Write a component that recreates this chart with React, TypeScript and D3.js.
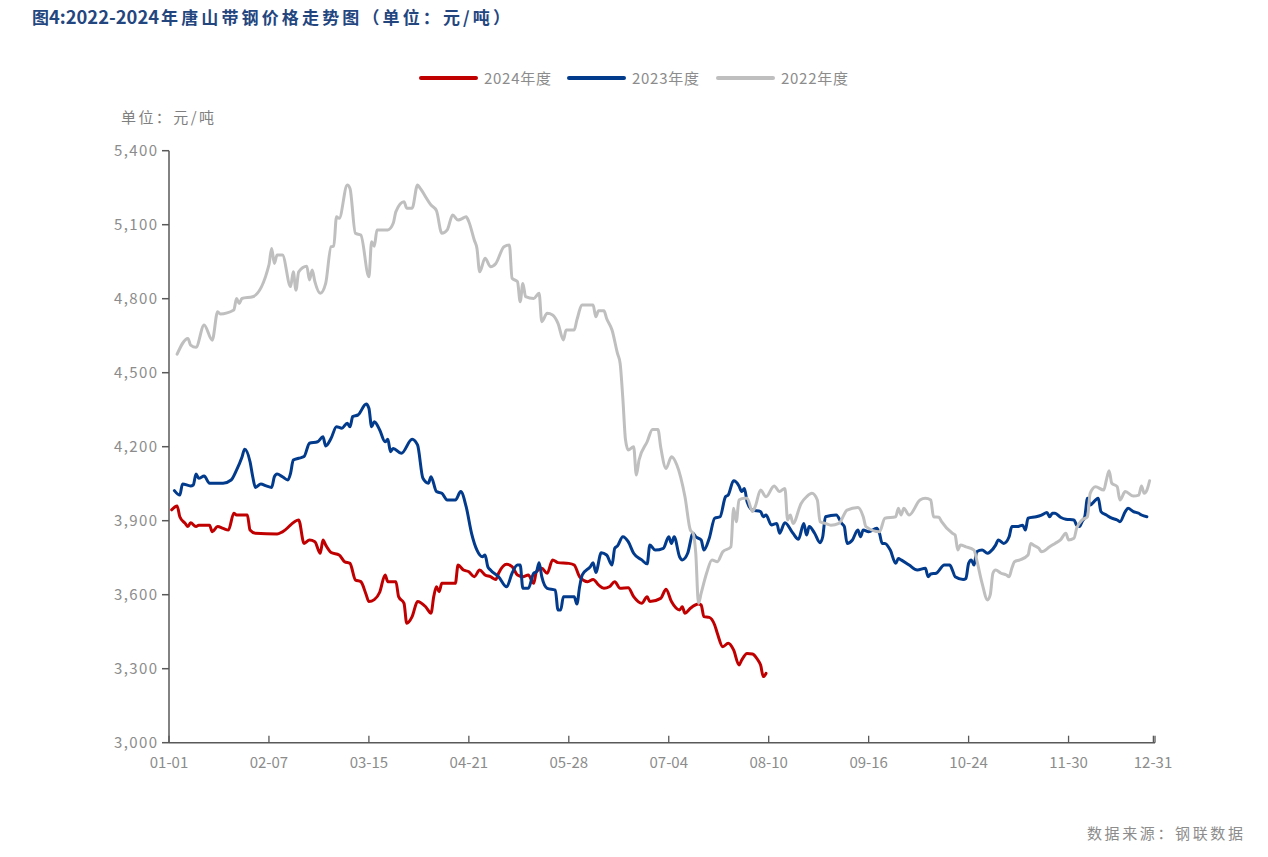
import { useEffect, useRef } from 'react';
import * as d3 from 'd3';

// x axis: day of year (0 = 01-01), ticks every 37 days
const tickDays = [0, 37, 74, 111, 148, 185, 222, 259, 296, 333, 365];
const tickLabels = ['01-01', '02-07', '03-15', '04-21', '05-28', '07-04', '08-10', '09-16', '10-24', '11-30', '12-31'];
const yTicks = [3000, 3300, 3600, 3900, 4200, 4500, 4800, 5100, 5400];

const days2024 = [1, 3, 4, 6, 7, 8, 10, 11, 15, 16, 18, 20, 22, 24, 25, 29, 30, 32, 40, 42, 48, 50, 52, 54, 56, 57, 58, 60, 63, 65, 67, 69, 71, 73, 74, 76, 78, 80, 81, 84, 85, 87, 88, 90, 92, 95, 97, 98, 99, 100, 101, 106, 107, 109, 111, 113, 115, 117, 119, 121, 122, 125, 127, 129, 131, 133, 135, 136, 138, 140, 142, 144, 148, 150, 152, 155, 157, 159, 161, 163, 165, 167, 170, 172, 175, 177, 178, 182, 184, 186, 189, 190, 191, 193, 196, 197, 198, 200, 202, 203, 205, 207, 209, 211, 212, 214, 216, 218, 219, 220, 221];
const price2024 = [3944, 3960, 3916, 3889, 3876, 3892, 3876, 3882, 3882, 3855, 3876, 3869, 3862, 3930, 3923, 3923, 3862, 3849, 3846, 3855, 3903, 3808, 3822, 3815, 3768, 3822, 3801, 3771, 3761, 3734, 3727, 3660, 3653, 3600, 3572, 3580, 3610, 3680, 3653, 3653, 3592, 3565, 3484, 3511, 3572, 3551, 3525, 3592, 3632, 3612, 3646, 3646, 3720, 3700, 3693, 3673, 3700, 3680, 3673, 3662, 3687, 3723, 3714, 3680, 3673, 3680, 3646, 3693, 3707, 3687, 3741, 3730, 3727, 3720, 3673, 3653, 3662, 3640, 3626, 3632, 3653, 3626, 3628, 3592, 3565, 3592, 3572, 3585, 3622, 3572, 3538, 3551, 3525, 3545, 3562, 3558, 3511, 3508, 3477, 3443, 3389, 3403, 3376, 3315, 3335, 3362, 3360, 3335, 3315, 3268, 3281];

const days2023 = [2, 4, 5, 8, 9, 10, 11, 13, 15, 20, 23, 25, 27, 28, 30, 31, 32, 34, 36, 38, 39, 40, 42, 44, 45, 46, 48, 50, 52, 55, 57, 58, 60, 62, 64, 66, 67, 68, 70, 73, 74, 75, 76, 78, 80, 81, 82, 83, 86, 90, 92, 94, 96, 97, 99, 101, 103, 106, 108, 110, 112, 114, 116, 117, 118, 119, 122, 125, 127, 129, 130, 131, 133, 135, 136, 137, 138, 140, 143, 144, 145, 146, 150, 151, 152, 153, 156, 157, 158, 160, 162, 164, 165, 166, 168, 170, 172, 175, 177, 178, 180, 183, 185, 186, 187, 189, 190, 192, 194, 195, 197, 198, 200, 202, 204, 206, 207, 209, 211, 212, 213, 214, 216, 219, 220, 221, 223, 225, 226, 228, 231, 233, 235, 236, 237, 239, 241, 242, 243, 247, 249, 250, 251, 253, 255, 256, 257, 259, 262, 263, 264, 265, 267, 269, 270, 271, 274, 277, 280, 281, 282, 284, 287, 289, 290, 291, 294, 295, 296, 297, 298, 299, 301, 303, 304, 306, 307, 309, 311, 312, 314, 316, 317, 318, 321, 323, 325, 326, 327, 328, 330, 332, 335, 336, 337, 338, 339, 340, 341, 343, 344, 345, 347, 349, 351, 352, 354, 355, 357, 359, 360, 362];
const price2023 = [4022, 4004, 4049, 4041, 4045, 4089, 4072, 4081, 4052, 4052, 4065, 4105, 4157, 4190, 4139, 4078, 4035, 4049, 4041, 4035, 4078, 4089, 4078, 4065, 4092, 4146, 4153, 4160, 4214, 4220, 4240, 4203, 4234, 4281, 4275, 4295, 4281, 4322, 4329, 4373, 4356, 4281, 4301, 4268, 4220, 4230, 4180, 4193, 4173, 4230, 4207, 4072, 4052, 4078, 4018, 4011, 3984, 3984, 4018, 3957, 3849, 3781, 3754, 3761, 3714, 3700, 3673, 3632, 3687, 3720, 3720, 3626, 3626, 3687, 3693, 3730, 3673, 3626, 3619, 3538, 3538, 3592, 3592, 3562, 3632, 3680, 3714, 3730, 3690, 3770, 3761, 3720, 3788, 3797, 3835, 3815, 3768, 3741, 3725, 3801, 3781, 3788, 3835, 3808, 3835, 3754, 3741, 3768, 3849, 3835, 3822, 3781, 3829, 3910, 3916, 3997, 4004, 4062, 4041, 4018, 4031, 3977, 3943, 3937, 3916, 3923, 3883, 3889, 3849, 3892, 3849, 3825, 3889, 3842, 3876, 3849, 3811, 3835, 3916, 3923, 3889, 3876, 3808, 3822, 3862, 3835, 3862, 3855, 3869, 3849, 3808, 3808, 3781, 3727, 3747, 3741, 3720, 3700, 3707, 3673, 3684, 3687, 3720, 3720, 3700, 3673, 3662, 3666, 3727, 3741, 3720, 3774, 3781, 3768, 3774, 3801, 3822, 3808, 3835, 3876, 3876, 3882, 3862, 3910, 3916, 3923, 3933, 3916, 3930, 3930, 3914, 3906, 3903, 3882, 3876, 3896, 3916, 3991, 3964, 3984, 3991, 3937, 3923, 3910, 3903, 3896, 3937, 3950, 3937, 3930, 3923, 3916];

const days2022 = [3, 7, 8, 10, 13, 16, 18, 19, 24, 25, 26, 27, 31, 37, 38, 39, 40, 42, 45, 46, 47, 48, 51, 52, 53, 54, 56, 58, 60, 61, 62, 63, 66, 67, 69, 71, 74, 75, 76, 77, 81, 83, 84, 87, 88, 90, 92, 93, 97, 99, 101, 103, 105, 107, 108, 110, 111, 113, 114, 115, 117, 119, 121, 124, 126, 127, 129, 130, 131, 132, 135, 137, 138, 140, 142, 144, 146, 147, 150, 151, 153, 157, 158, 159, 161, 162, 164, 166, 167, 168, 169, 170, 172, 173, 174, 177, 179, 181, 182, 184, 186, 188, 191, 193, 194, 195, 196, 197, 199, 201, 203, 205, 208, 209, 210, 211, 213, 214, 216, 217, 219, 221, 224, 226, 228, 229, 230, 231, 234, 236, 238, 240, 241, 243, 245, 248, 251, 255, 257, 258, 263, 265, 269, 270, 271, 272, 274, 278, 280, 282, 283, 285, 286, 290, 291, 292, 293, 295, 298, 299, 301, 303, 304, 305, 306, 308, 310, 311, 312, 313, 315, 318, 319, 320, 322, 323, 326, 328, 330, 332, 333, 335, 336, 338, 340, 341, 343, 346, 347, 348, 349, 351, 352, 354, 357, 359, 360, 361, 362, 363];
const price2022 = [4575, 4639, 4612, 4603, 4693, 4632, 4747, 4738, 4754, 4801, 4781, 4801, 4808, 4937, 5004, 4943, 4977, 4977, 4849, 4909, 4835, 4909, 4932, 4876, 4916, 4869, 4822, 4862, 5011, 5013, 5132, 5126, 5261, 5247, 5065, 5058, 4889, 5031, 5013, 5079, 5079, 5106, 5153, 5193, 5167, 5167, 5261, 5247, 5180, 5157, 5065, 5079, 5139, 5119, 5122, 5132, 5112, 5038, 5004, 4909, 4964, 4930, 4943, 5011, 5018, 4883, 4869, 4788, 4862, 4808, 4801, 4822, 4707, 4741, 4734, 4700, 4633, 4673, 4673, 4714, 4774, 4774, 4727, 4751, 4751, 4720, 4673, 4579, 4538, 4396, 4227, 4187, 4200, 4085, 4146, 4220, 4270, 4270, 4200, 4112, 4159, 4126, 3997, 3862, 3849, 3768, 3565, 3606, 3687, 3741, 3734, 3774, 3794, 3950, 3896, 3984, 3991, 3991, 3937, 3957, 4024, 3997, 4041, 4018, 4031, 3903, 3923, 3889, 3970, 3997, 4011, 3984, 3896, 3889, 3882, 3889, 3943, 3954, 3916, 3876, 3855, 3910, 3916, 3950, 3923, 3950, 3923, 3984, 3991, 3984, 3916, 3914, 3896, 3849, 3842, 3781, 3801, 3794, 3781, 3741, 3646, 3579, 3599, 3687, 3700, 3687, 3680, 3673, 3707, 3734, 3741, 3761, 3808, 3801, 3788, 3774, 3794, 3808, 3822, 3849, 3822, 3829, 3869, 3903, 3916, 4011, 4038, 4024, 4065, 4103, 4052, 4038, 3984, 4018, 4000, 4004, 4041, 4011, 4024, 4062];

const seriesNames = ['2024年度', '2023年度', '2022年度'];
const seriesColors = ['#C00000', '#023A8C', '#BFBFBF'];
const seriesDays = [days2024, days2023, days2022];
const seriesPrices = [price2024, price2023, price2022];

const W = 1268;
const H = 857;
const FONT = '"Noto Sans CJK SC", "Noto Sans", sans-serif';
const GREY_TEXT = '#8C8C8C';

export default function App() {
  const svgRef = useRef<SVGSVGElement>(null);

  useEffect(() => {
    document.body.style.margin = '0';
    if (!svgRef.current) return;
    const svg = d3.select(svgRef.current);
    svg.selectAll('*').remove();

    const x = d3.scaleLinear().domain([0, 365]).range([169, 1155]);
    const y = d3.scaleLinear().domain([3000, 5400]).range([742.7, 150.7]);

    // title: CJK part is wider-spaced than the digits
    const title = svg
      .append('text')
      .attr('y', 24)
      .attr('font-family', FONT)
      .attr('font-weight', 'bold')
      .attr('font-size', 17)
      .attr('fill', '#24467F');
    title.append('tspan').attr('x', 32).text('图');
    title
      .append('tspan')
      .attr('x', 49)
      .attr('font-size', 18)
      .attr('textLength', 110)
      .attr('lengthAdjust', 'spacingAndGlyphs')
      .text('4:2022-2024');
    title
      .append('tspan')
      .attr('x', 161)
      .attr('textLength', 349)
      .attr('lengthAdjust', 'spacing')
      .text('年唐山带钢价格走势图（单位：元/吨）');

    // unit label
    svg
      .append('text')
      .attr('x', 121)
      .attr('y', 123)
      .attr('textLength', 93)
      .attr('lengthAdjust', 'spacing')
      .attr('font-family', FONT)
      .attr('font-size', 15)
      .attr('fill', '#7F7F7F')
      .text('单位：元/吨');

    // legend
    const legendX = [420, 568, 717];
    seriesNames.forEach((name, i) => {
      const g = svg.append('g').attr('transform', `translate(${legendX[i]},78)`);
      g.append('line')
        .attr('x1', 1)
        .attr('x2', 56)
        .attr('stroke', seriesColors[i])
        .attr('stroke-width', 4)
        .attr('stroke-linecap', 'round');
      g.append('text')
        .attr('x', 64)
        .attr('y', 6)
        .attr('textLength', 67)
        .attr('lengthAdjust', 'spacing')
        .attr('font-family', FONT)
        .attr('font-size', 15)
        .attr('fill', GREY_TEXT)
        .text(name);
    });

    // axes
    const axisColor = '#595959';
    svg
      .append('line')
      .attr('x1', x(0))
      .attr('x2', x(0))
      .attr('y1', y(5400))
      .attr('y2', y(3000))
      .attr('stroke', axisColor)
      .attr('stroke-width', 1.5);
    svg
      .append('line')
      .attr('x1', x(0))
      .attr('x2', x(365))
      .attr('y1', y(3000))
      .attr('y2', y(3000))
      .attr('stroke', axisColor)
      .attr('stroke-width', 1.5);

    yTicks.forEach((v) => {
      svg
        .append('line')
        .attr('x1', x(0) - 7)
        .attr('x2', x(0))
        .attr('y1', y(v))
        .attr('y2', y(v))
        .attr('stroke', axisColor)
        .attr('stroke-width', 1.5);
      svg
        .append('text')
        .attr('x', 157)
        .attr('y', y(v) + 5)
        .attr('text-anchor', 'end')
        .attr('textLength', 43)
        .attr('lengthAdjust', 'spacing')
        .attr('font-family', FONT)
        .attr('font-size', 15)
        .attr('fill', GREY_TEXT)
        .text(d3.format(',')(v));
    });

    [...tickDays, 364.4].forEach((d) => {
      svg
        .append('line')
        .attr('x1', x(d))
        .attr('x2', x(d))
        .attr('y1', y(3000))
        .attr('y2', y(3000) - 7)
        .attr('stroke', axisColor)
        .attr('stroke-width', 1.3);
    });
    tickDays.forEach((d, i) => {
      svg
        .append('text')
        .attr('x', i === tickDays.length - 1 ? x(d) - 2 : x(d))
        .attr('y', y(3000) + 25)
        .attr('text-anchor', 'middle')
        .attr('font-family', FONT)
        .attr('font-size', 15)
        .attr('fill', GREY_TEXT)
        .text(tickLabels[i]);
    });

    // series lines
    const line = d3
      .line<[number, number]>()
      .x((d) => x(d[0]))
      .y((d) => y(d[1]))
      .curve(d3.curveMonotoneX);
    seriesNames.forEach((_, i) => {
      const pts = seriesDays[i].map((d, j) => [d, seriesPrices[i][j]] as [number, number]);
      svg
        .append('path')
        .datum(pts)
        .attr('fill', 'none')
        .attr('stroke', seriesColors[i])
        .attr('stroke-width', 3)
        .attr('stroke-linecap', 'round')
        .attr('stroke-linejoin', 'round')
        .attr('d', line);
    });

    // source
    svg
      .append('text')
      .attr('x', 1087)
      .attr('y', 839)
      .attr('textLength', 156)
      .attr('lengthAdjust', 'spacing')
      .attr('font-family', FONT)
      .attr('font-size', 15)
      .attr('fill', '#8C8C8C')
      .text('数据来源：钢联数据');
  }, []);

  return <svg ref={svgRef} width={W} height={H} style={{ display: 'block', background: '#fff' }} />;
}
